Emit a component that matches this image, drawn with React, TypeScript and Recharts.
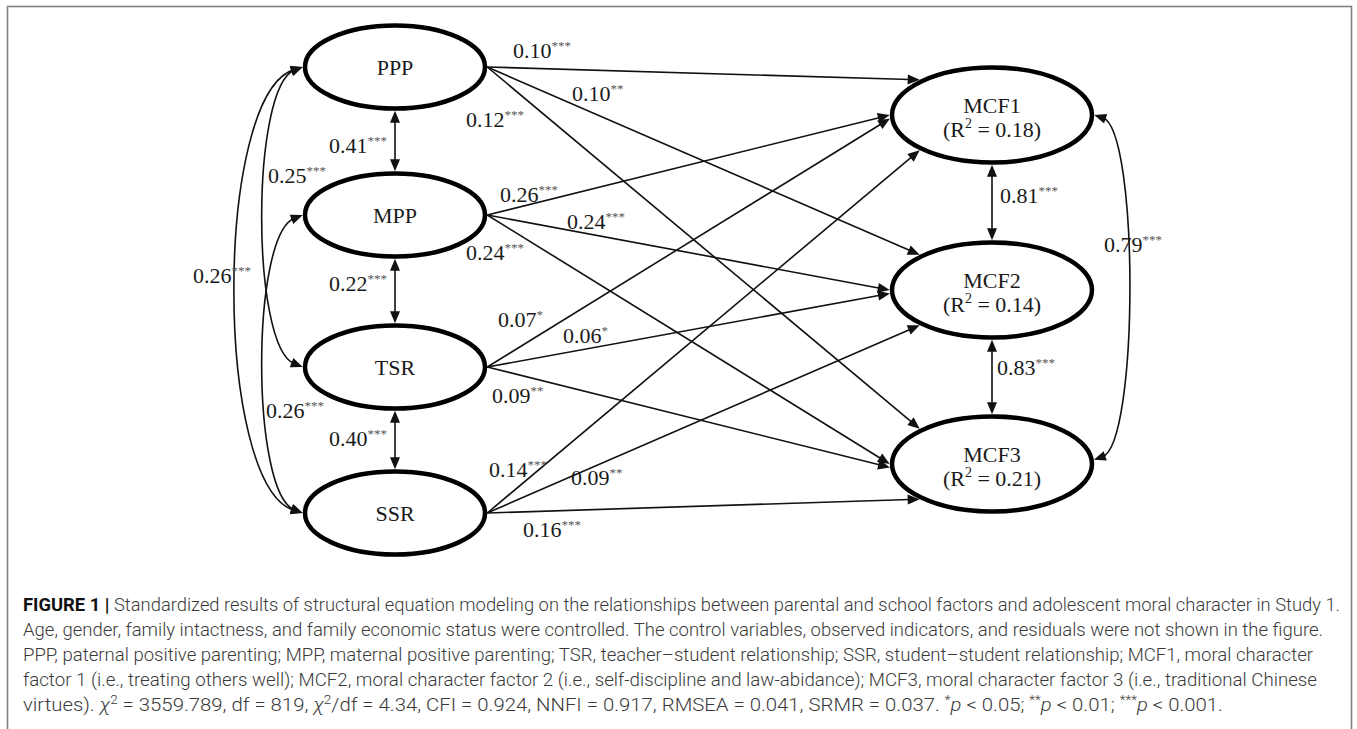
import React from 'react';
import { ScatterChart, Scatter, XAxis, YAxis } from 'recharts';

// ---------------- data ----------------
const predictors = ['PPP', 'MPP', 'TSR', 'SSR'];
const outcomes = ['MCF1', 'MCF2', 'MCF3'];
const outcomeR2 = ['0.18', '0.14', '0.21'];

// structural paths (predictor -> outcome), standardized coefficients
const pathFrom = ['PPP', 'PPP', 'PPP', 'MPP', 'MPP', 'MPP', 'TSR', 'TSR', 'TSR', 'SSR', 'SSR', 'SSR'];
const pathTo = ['MCF1', 'MCF2', 'MCF3', 'MCF1', 'MCF2', 'MCF3', 'MCF1', 'MCF2', 'MCF3', 'MCF1', 'MCF2', 'MCF3'];
const pathBeta = [0.10, 0.10, 0.12, 0.26, 0.24, 0.24, 0.07, 0.06, 0.09, 0.14, 0.09, 0.16];
const pathSig = ['***', '**', '***', '***', '***', '***', '*', '*', '**', '***', '**', '***'];

// correlations (double-headed)
const corrA = ['PPP', 'MPP', 'TSR', 'PPP', 'PPP', 'MPP', 'MCF1', 'MCF2', 'MCF1'];
const corrB = ['MPP', 'TSR', 'SSR', 'TSR', 'SSR', 'SSR', 'MCF2', 'MCF3', 'MCF3'];
const corrR = [0.41, 0.22, 0.40, 0.25, 0.26, 0.26, 0.81, 0.83, 0.79];
const corrSig = ['***', '***', '***', '***', '***', '***', '***', '***', '***'];

// ---------------- layout (not data) ----------------
const W = 1357;
const H = 729;
const NODE_XY: Record<string, [number, number]> = {
  PPP: [395, 67],
  MPP: [395, 215],
  TSR: [395, 367],
  SSR: [395, 513],
  MCF1: [992, 115],
  MCF2: [992, 290],
  MCF3: [992, 464],
};
const PRED_SHAPE = { rx: 90, ry: 41.5 };
const OUT_SHAPE = { rx: 100, ry: 47.5 };
const NODE_STROKE = 4.5;
const EDGE_STROKE = 1.6;
const INK = '#111';
// angle on the target ellipse where a path from predictor row r arrives
const TARGET_ANGLE = [225, 180, 176, 135];
// label offsets relative to the source node centre
const LABEL_OFF: Record<string, [number, number]> = {
  'PPP>MCF1': [118, -9], 'PPP>MCF2': [177, 34], 'PPP>MCF3': [71, 60],
  'MPP>MCF1': [105, -13], 'MPP>MCF2': [172, 14], 'MPP>MCF3': [71, 45],
  'TSR>MCF1': [103, -40], 'TSR>MCF2': [168, -24], 'TSR>MCF3': [97, 36],
  'SSR>MCF1': [94, -36], 'SSR>MCF2': [176, -28], 'SSR>MCF3': [128, 24],
  'PPP~MPP': [-66, 86], 'MPP~TSR': [-66, 76], 'TSR~SSR': [-66, 79],
  'PPP~TSR': [-127, 116], 'PPP~SSR': [-202, 216], 'MPP~SSR': [-129, 203],
  'MCF1~MCF2': [8, 88], 'MCF2~MCF3': [5, 85], 'MCF1~MCF3': [112, 137],
};
// curve bulge [horizontal, vertical] for non-adjacent correlations
const CURVE: Record<string, [number, number]> = {
  'PPP~TSR': [52, 20],
  'PPP~SSR': [89, 27],
  'MPP~SSR': [52, 20],
  'MCF1~MCF3': [45, 15],
};

const SERIF = '"Liberation Serif", "Times New Roman", Times, serif';
const SANS = 'Roboto, "Liberation Sans", Arial, sans-serif';

const isOutcome = (n: string) => outcomes.includes(n);
const shapeOf = (n: string) => (isOutcome(n) ? OUT_SHAPE : PRED_SHAPE);

type Pt = { x: number; y: number };
const onEllipse = (c: Pt, n: string, deg: number): Pt => {
  const s = shapeOf(n);
  const a = (deg * Math.PI) / 180;
  return {
    x: c.x + (s.rx + NODE_STROKE / 2) * Math.cos(a),
    y: c.y + (s.ry + NODE_STROKE / 2) * Math.sin(a),
  };
};
const unit = (a: Pt, b: Pt): Pt => {
  const dx = b.x - a.x;
  const dy = b.y - a.y;
  const l = Math.hypot(dx, dy) || 1;
  return { x: dx / l, y: dy / l };
};
const HEAD_L = 12;
const HEAD_W = 5;
const Head = ({ tip, dir }: { tip: Pt; dir: Pt }) => {
  const bx = tip.x - dir.x * HEAD_L;
  const by = tip.y - dir.y * HEAD_L;
  const nx = -dir.y;
  const ny = dir.x;
  return (
    <polygon
      points={`${tip.x},${tip.y} ${bx + nx * HEAD_W},${by + ny * HEAD_W} ${bx - nx * HEAD_W},${by - ny * HEAD_W}`}
      fill={INK}
    />
  );
};

const CoefLabel = ({ x, y, value, sig }: { x: number; y: number; value: number; sig: string }) => (
  <text x={x} y={y} fontFamily={SERIF} fontSize={22} fill="#1a1a1a">
    {value.toFixed(2)}
    <tspan fontSize={13} dy={-8} fill="#555">
      {sig}
    </tspan>
  </text>
);

type Edge = {
  key: string;
  from: string;
  to: string;
  value: number;
  sig: string;
  kind: 'path' | 'corr';
};

const edges: Edge[] = [
  ...pathFrom.map((f, i) => ({
    key: `${f}>${pathTo[i]}`,
    from: f,
    to: pathTo[i],
    value: pathBeta[i],
    sig: pathSig[i],
    kind: 'path' as const,
  })),
  ...corrA.map((a, i) => ({
    key: `${a}~${corrB[i]}`,
    from: a,
    to: corrB[i],
    value: corrR[i],
    sig: corrSig[i],
    kind: 'corr' as const,
  })),
];

const renderEdge = (edge: Edge) => (props: any) => {
  const pts = props.points || [];
  if (pts.length < 2) return <g />;
  const s: Pt = { x: pts[0].x, y: pts[0].y };
  const t: Pt = { x: pts[1].x, y: pts[1].y };
  const off = LABEL_OFF[edge.key] || [0, 0];
  const label = <CoefLabel x={s.x + off[0]} y={s.y + off[1]} value={edge.value} sig={edge.sig} />;

  if (edge.kind === 'path') {
    const row = predictors.indexOf(edge.from);
    const p0 = onEllipse(s, edge.from, 0);
    const p1 = onEllipse(t, edge.to, TARGET_ANGLE[row]);
    const d = unit(p0, p1);
    const lineEnd = { x: p1.x - d.x * (HEAD_L - 2), y: p1.y - d.y * (HEAD_L - 2) };
    return (
      <g>
        <line x1={p0.x} y1={p0.y} x2={lineEnd.x} y2={lineEnd.y} stroke={INK} strokeWidth={EDGE_STROKE} />
        <Head tip={p1} dir={d} />
        {label}
      </g>
    );
  }

  const col = isOutcome(edge.from) ? outcomes : predictors;
  const adjacent = Math.abs(col.indexOf(edge.from) - col.indexOf(edge.to)) === 1;
  if (adjacent) {
    const p0 = onEllipse(s, edge.from, 90);
    const p1 = onEllipse(t, edge.to, 270);
    const d = unit(p0, p1);
    const a = { x: p0.x + d.x * (HEAD_L - 2), y: p0.y + d.y * (HEAD_L - 2) };
    const b = { x: p1.x - d.x * (HEAD_L - 2), y: p1.y - d.y * (HEAD_L - 2) };
    return (
      <g>
        <line x1={a.x} y1={a.y} x2={b.x} y2={b.y} stroke={INK} strokeWidth={EDGE_STROKE} />
        <Head tip={p0} dir={{ x: -d.x, y: -d.y }} />
        <Head tip={p1} dir={d} />
        {label}
      </g>
    );
  }

  const right = isOutcome(edge.from);
  const sign = right ? 1 : -1;
  const [bx, ky] = CURVE[edge.key] || [50, 20];
  const P0 = onEllipse(s, edge.from, right ? 0 : 180);
  const P3 = onEllipse(t, edge.to, right ? 355 : 180);
  const P1 = { x: P0.x + sign * bx, y: P0.y + ky };
  const P2 = { x: P3.x + sign * bx, y: P3.y - ky };
  const u0 = unit(P0, P1);
  const u3 = unit(P3, P2);
  const A = { x: P0.x + u0.x * (HEAD_L - 3), y: P0.y + u0.y * (HEAD_L - 3) };
  const B = { x: P3.x + u3.x * (HEAD_L - 3), y: P3.y + u3.y * (HEAD_L - 3) };
  return (
    <g>
      <path
        d={`M${A.x},${A.y} C${P1.x},${P1.y} ${P2.x},${P2.y} ${B.x},${B.y}`}
        fill="none"
        stroke={INK}
        strokeWidth={EDGE_STROKE}
      />
      <Head tip={P0} dir={{ x: -u0.x, y: -u0.y }} />
      <Head tip={P3} dir={{ x: -u3.x, y: -u3.y }} />
      {label}
    </g>
  );
};

const nodeData = [
  ...predictors.map((n) => ({ name: n, x: NODE_XY[n][0], y: NODE_XY[n][1], r2: null as string | null })),
  ...outcomes.map((n, i) => ({ name: n, x: NODE_XY[n][0], y: NODE_XY[n][1], r2: outcomeR2[i] })),
];

const NodeShape = (props: any) => {
  const { cx, cy, payload } = props;
  const s = shapeOf(payload.name);
  return (
    <g>
      <ellipse cx={cx} cy={cy} rx={s.rx} ry={s.ry} fill="#fff" stroke="#000" strokeWidth={NODE_STROKE} />
      {payload.r2 ? (
        <g fontFamily={SERIF} fontSize={22} fill="#1a1a1a">
          <text x={cx} y={cy - 2} textAnchor="middle">
            {payload.name}
          </text>
          <text x={cx} y={cy + 22} textAnchor="middle">
            (R
            <tspan fontSize={14} dy={-9}>
              2
            </tspan>
            <tspan dy={9}>{` = ${payload.r2})`}</tspan>
          </text>
        </g>
      ) : (
        <text x={cx} y={cy + 8} textAnchor="middle" fontFamily={SERIF} fontSize={22} fill="#1a1a1a">
          {payload.name}
        </text>
      )}
    </g>
  );
};

// ---------------- caption ----------------
type Seg = { t: string; b?: boolean; i?: boolean; sup?: boolean };
const captionLines: { segs: Seg[]; end: number }[] = [
  {
    end: 1340,
    segs: [
      { t: 'FIGURE 1 | ', b: true },
      {
        t: 'Standardized results of structural equation modeling on the relationships between parental and school factors and adolescent moral character in Study 1.',
      },
    ],
  },
  {
    end: 1323,
    segs: [
      {
        t: 'Age, gender, family intactness, and family economic status were controlled. The control variables, observed indicators, and residuals were not shown in the figure.',
      },
    ],
  },
  {
    end: 1313,
    segs: [
      {
        t: 'PPP, paternal positive parenting; MPP, maternal positive parenting; TSR, teacher–student relationship; SSR, student–student relationship; MCF1, moral character',
      },
    ],
  },
  {
    end: 1317,
    segs: [
      {
        t: 'factor 1 (i.e., treating others well); MCF2, moral character factor 2 (i.e., self-discipline and law-abidance); MCF3, moral character factor 3 (i.e., traditional Chinese',
      },
    ],
  },
  {
    end: 1223,
    segs: [
      { t: 'virtues). ' },
      { t: 'χ', i: true },
      { t: '2', sup: true },
      { t: ' = 3559.789, df = 819, ' },
      { t: 'χ', i: true },
      { t: '2', sup: true },
      { t: '/df = 4.34, CFI = 0.924, NNFI = 0.917, RMSEA = 0.041, SRMR = 0.037. ' },
      { t: '*', sup: true },
      { t: 'p', i: true },
      { t: ' < 0.05; ' },
      { t: '**', sup: true },
      { t: 'p', i: true },
      { t: ' < 0.01; ' },
      { t: '***', sup: true },
      { t: 'p', i: true },
      { t: ' < 0.001.' },
    ],
  },
];
const CAP_X = 23;
const CAP_Y0 = 611;
const CAP_DY = 25;

const renderSegs = (segs: Seg[]) => {
  let raised = false;
  return segs.map((s, i) => {
    let dy = 0;
    if (s.sup && !raised) {
      dy = -7;
      raised = true;
    } else if (!s.sup && raised) {
      dy = 7;
      raised = false;
    }
    return (
      <tspan
        key={i}
        dy={dy || undefined}
        fontWeight={s.b ? 700 : undefined}
        fontStyle={s.i ? 'italic' : undefined}
        fontSize={s.sup ? 12 : undefined}
        fill={s.b ? '#111' : undefined}
      >
        {s.t}
      </tspan>
    );
  });
};

export default function App() {
  return (
    <div style={{ position: 'absolute', left: 0, top: 0, width: W, height: H, background: '#fff', overflow: 'hidden' }}>
      <ScatterChart width={W} height={H} margin={{ top: 0, right: 0, bottom: 0, left: 0 }}>
        <XAxis type="number" dataKey="x" domain={[0, W]} hide />
        <YAxis type="number" dataKey="y" domain={[0, H]} reversed hide />
        {edges.map((e) => (
          <Scatter
            key={e.key}
            name={e.key}
            data={[
              { x: NODE_XY[e.from][0], y: NODE_XY[e.from][1] },
              { x: NODE_XY[e.to][0], y: NODE_XY[e.to][1] },
            ]}
            shape={() => <g />}
            line={renderEdge(e)}
            fill={INK}
            isAnimationActive={false}
          />
        ))}
        <Scatter name="nodes" data={nodeData} shape={NodeShape} isAnimationActive={false} />
      </ScatterChart>
      <svg width={W} height={H} style={{ position: 'absolute', left: 0, top: 0, pointerEvents: 'none' }}>
        <rect x={7.5} y={6.5} width={1344} height={760} fill="none" stroke="#808080" strokeWidth={1.6} />
        {captionLines.map((ln, i) => (
          <text
            key={i}
            x={CAP_X}
            y={CAP_Y0 + i * CAP_DY}
            fontFamily={SANS}
            fontSize={18}
            fontWeight={300}
            fill="#3a3a3a"
            textLength={ln.end - CAP_X}
            lengthAdjust="spacingAndGlyphs"
          >
            {renderSegs(ln.segs)}
          </text>
        ))}
      </svg>
    </div>
  );
}
